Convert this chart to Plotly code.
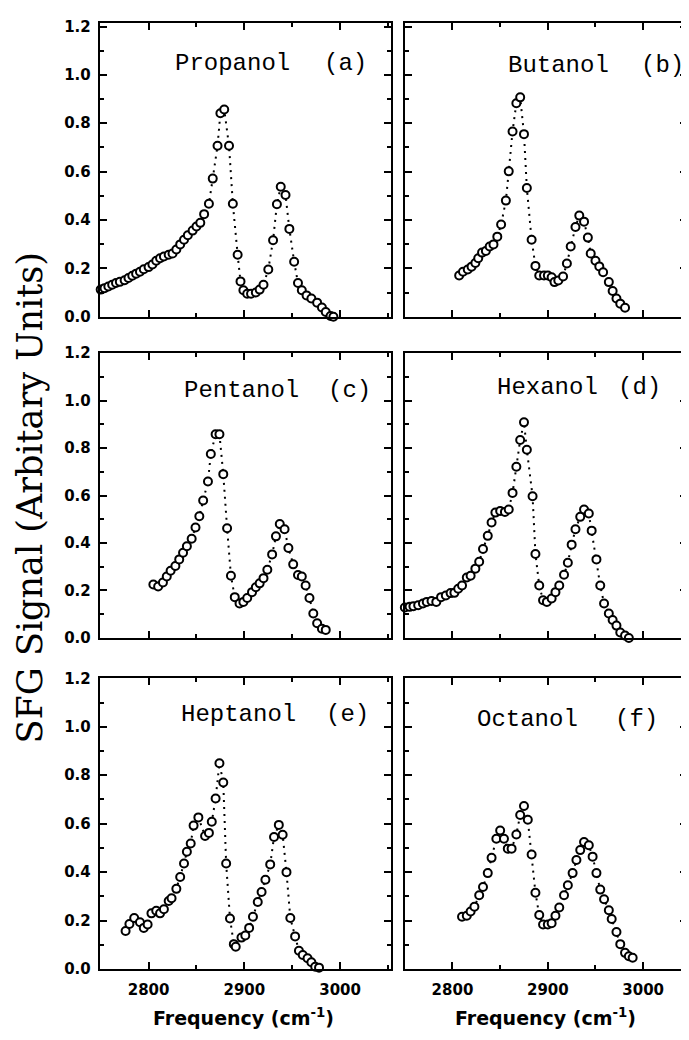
import plotly.graph_objects as go

# ---------------- data ----------------
propanol_freq = [2750, 2754, 2758, 2762, 2766, 2770, 2775, 2779, 2783, 2787, 2791, 2795, 2800, 2804, 2808,
                 2812, 2816, 2821, 2825, 2829, 2833, 2837, 2841, 2846, 2850, 2854, 2858, 2863, 2867, 2872,
                 2875, 2879, 2884, 2888, 2893, 2896, 2899, 2903, 2907, 2912, 2916, 2920, 2925, 2930, 2934,
                 2938, 2943, 2947, 2952, 2956, 2960, 2965, 2970, 2976, 2981, 2985, 2990, 2993]
propanol_sfg = [0.112, 0.118, 0.125, 0.132, 0.139, 0.144, 0.151, 0.160, 0.169, 0.178, 0.186, 0.196, 0.205, 0.216, 0.231,
                0.242, 0.249, 0.256, 0.261, 0.278, 0.299, 0.318, 0.337, 0.356, 0.373, 0.388, 0.424, 0.467, 0.571, 0.707,
                0.841, 0.857, 0.707, 0.467, 0.256, 0.146, 0.109, 0.095, 0.095, 0.100, 0.112, 0.132, 0.195, 0.316, 0.465,
                0.537, 0.503, 0.363, 0.227, 0.139, 0.109, 0.088, 0.075, 0.058, 0.038, 0.019, 0.003, 0.0]

butanol_freq = [2807, 2811, 2816, 2820, 2824, 2827, 2831, 2835, 2839, 2843, 2847, 2851, 2856, 2859, 2863,
                2867, 2871, 2875, 2878, 2883, 2887, 2891, 2896, 2900, 2904, 2907, 2911, 2916, 2920, 2924,
                2929, 2933, 2938, 2942, 2945, 2950, 2954, 2958, 2964, 2968, 2972, 2976, 2981]
butanol_sfg = [0.170, 0.186, 0.195, 0.207, 0.222, 0.242, 0.265, 0.272, 0.290, 0.299, 0.331, 0.381, 0.480, 0.601, 0.766,
               0.883, 0.907, 0.755, 0.532, 0.318, 0.210, 0.170, 0.170, 0.170, 0.163, 0.143, 0.150, 0.166, 0.220, 0.290,
               0.371, 0.418, 0.393, 0.327, 0.261, 0.231, 0.208, 0.184, 0.143, 0.106, 0.075, 0.054, 0.037]

pentanol_freq = [2805, 2810, 2815, 2819, 2823, 2828, 2832, 2836, 2840, 2845, 2849, 2853, 2857, 2862, 2865,
                 2870, 2874, 2878, 2882, 2886, 2890, 2895, 2899, 2903, 2908, 2912, 2916, 2920, 2924, 2929,
                 2933, 2937, 2942, 2946, 2951, 2956, 2960, 2964, 2968, 2972, 2976, 2981, 2985]
pentanol_sfg = [0.225, 0.217, 0.234, 0.259, 0.283, 0.303, 0.331, 0.359, 0.386, 0.418, 0.465, 0.513, 0.579, 0.659, 0.775,
                0.858, 0.858, 0.690, 0.462, 0.262, 0.172, 0.145, 0.152, 0.168, 0.193, 0.214, 0.230, 0.252, 0.287, 0.352,
                0.428, 0.480, 0.458, 0.379, 0.310, 0.265, 0.259, 0.221, 0.168, 0.103, 0.062, 0.039, 0.034]

hexanol_freq = [2750, 2755, 2759, 2764, 2769, 2773, 2778, 2783, 2788, 2793, 2798, 2802, 2806, 2810, 2815,
                2819, 2824, 2828, 2832, 2837, 2841, 2845, 2850, 2855, 2859, 2863, 2867, 2871, 2875, 2878,
                2884, 2887, 2891, 2895, 2899, 2904, 2908, 2912, 2917, 2921, 2925, 2929, 2934, 2938, 2943,
                2946, 2951, 2955, 2959, 2964, 2968, 2972, 2976, 2981, 2985]
hexanol_sfg = [0.128, 0.131, 0.134, 0.138, 0.145, 0.152, 0.156, 0.152, 0.172, 0.179, 0.189, 0.190, 0.207, 0.221, 0.255,
               0.262, 0.292, 0.321, 0.375, 0.430, 0.486, 0.528, 0.535, 0.531, 0.541, 0.611, 0.721, 0.834, 0.908, 0.793,
               0.597, 0.354, 0.221, 0.159, 0.152, 0.166, 0.193, 0.221, 0.266, 0.317, 0.393, 0.458, 0.510, 0.541, 0.524,
               0.452, 0.331, 0.221, 0.145, 0.103, 0.076, 0.052, 0.023, 0.010, 0.0]

heptanol_freq = [2776, 2780, 2785, 2791, 2795, 2799, 2803, 2808, 2812, 2816, 2821, 2824, 2829, 2833, 2837,
                 2840, 2844, 2847, 2852, 2859, 2863, 2866, 2870, 2874, 2878, 2881, 2885, 2889, 2891, 2897,
                 2901, 2905, 2909, 2914, 2918, 2922, 2927, 2931, 2936, 2940, 2944, 2948, 2953, 2957, 2961,
                 2966, 2970, 2974, 2978]
heptanol_sfg = [0.157, 0.186, 0.211, 0.193, 0.170, 0.184, 0.230, 0.241, 0.230, 0.247, 0.281, 0.292, 0.331, 0.380, 0.436,
                0.484, 0.518, 0.592, 0.626, 0.549, 0.562, 0.608, 0.704, 0.849, 0.770, 0.436, 0.209, 0.103, 0.092, 0.130,
                0.139, 0.170, 0.216, 0.277, 0.318, 0.369, 0.432, 0.545, 0.595, 0.554, 0.400, 0.211, 0.135, 0.076, 0.058,
                0.045, 0.028, 0.010, 0.006]

octanol_freq = [2810, 2815, 2819, 2823, 2828, 2832, 2837, 2841, 2846, 2850, 2854, 2858, 2862, 2867, 2871,
                2875, 2879, 2883, 2887, 2891, 2895, 2900, 2904, 2908, 2912, 2917, 2921, 2926, 2930, 2934,
                2938, 2943, 2947, 2951, 2955, 2959, 2964, 2967, 2972, 2976, 2981, 2985, 2989]
octanol_sfg = [0.216, 0.220, 0.238, 0.257, 0.305, 0.339, 0.396, 0.459, 0.538, 0.572, 0.538, 0.497, 0.497, 0.555, 0.636,
               0.673, 0.616, 0.473, 0.315, 0.223, 0.184, 0.184, 0.189, 0.220, 0.254, 0.305, 0.346, 0.396, 0.450, 0.491,
               0.524, 0.511, 0.464, 0.396, 0.328, 0.288, 0.243, 0.207, 0.153, 0.103, 0.067, 0.053, 0.047]

panel_names = ["Propanol", "Butanol", "Pentanol", "Hexanol", "Heptanol", "Octanol"]
panel_letters = ["(a)", "(b)", "(c)", "(d)", "(e)", "(f)"]

x_tick_vals = [2800, 2900, 3000]
x_tick_text = ["2800", "2900", "3000"]
x_minor_vals = [2750, 2850, 2950, 3050]
y_tick_vals = [0.0, 0.2, 0.4, 0.6, 0.8, 1.0, 1.2]
y_tick_text = ["0.0", "0.2", "0.4", "0.6", "0.8", "1.0", "1.2"]
y_minor_vals = [0.1, 0.3, 0.5, 0.7, 0.9, 1.1]

y_title = "SFG Signal (Arbitary Units)"
x_title = "Frequency (cm<sup>-1</sup>)"

series = [(propanol_freq, propanol_sfg), (butanol_freq, butanol_sfg),
          (pentanol_freq, pentanol_sfg), (hexanol_freq, hexanol_sfg),
          (heptanol_freq, heptanol_sfg), (octanol_freq, octanol_sfg)]

# ---------------- layout geometry ----------------
# The page body has an 8px default margin, so the figure is drawn 8px in from
# the top-left of the window; screen positions are converted accordingly.
OFF = 8
W, H = 689 - OFF, 1040 - OFF


def fx(sx):
    return (sx - OFF) / W


def fy(sy):
    return 1 - (sy - OFF) / H


col_px = [(100, 392), (406, 689)]
row_px = [(14, 313), (350, 640), (681, 977)]
x_ranges = [[2749, 3053], [2750, 3046]]
y_ranges = [[0, 1.215], [0, 1.2], [0, 1.2]]

tick_font = dict(family="DejaVu Sans", size=15, color="black", weight="bold")

fig = go.Figure()
layout = dict(width=W, height=H, margin=dict(l=0, r=0, t=0, b=0),
              paper_bgcolor="white", plot_bgcolor="white", showlegend=False)
annotations = []

for i, (sx_, sy_) in enumerate(series):
    row, col = divmod(i, 2)
    n = "" if i == 0 else str(i + 1)
    fig.add_trace(go.Scatter(
        x=sx_, y=sy_, mode="lines+markers",
        line=dict(color="black", width=2, dash="2px,5px"),
        marker=dict(symbol="circle", size=8, color="white",
                    line=dict(color="black", width=2)),
        xaxis="x" + n, yaxis="y" + n, cliponaxis=False))
    c0, c1 = col_px[col]
    r0, r1 = row_px[row]
    layout["xaxis" + n] = dict(
        domain=[fx(c0), min(1.0, fx(c1))], range=x_ranges[col], anchor="y" + n,
        tickvals=x_tick_vals, ticktext=x_tick_text, ticks="inside", ticklen=7, tickwidth=1.5,
        tickcolor="black", showline=True, linecolor="black", linewidth=2, mirror="allticks",
        showgrid=False, zeroline=False, showticklabels=(row == 2), tickfont=tick_font,
        ticklabelstandoff=6,
        minor=dict(tickvals=x_minor_vals, ticks="inside", ticklen=4, tickwidth=1.5,
                   tickcolor="black", showgrid=False))
    layout["yaxis" + n] = dict(
        domain=[fy(r1), fy(r0)], range=y_ranges[row], anchor="x" + n,
        tickvals=y_tick_vals, ticktext=y_tick_text, ticks="inside", ticklen=7, tickwidth=1.5,
        tickcolor="black", showline=True, linecolor="black", linewidth=2, mirror="allticks",
        showgrid=False, zeroline=False, showticklabels=(col == 0), tickfont=tick_font,
        ticklabelstandoff=4,
        minor=dict(tickvals=y_minor_vals, ticks="inside", ticklen=4, tickwidth=1.5,
                   tickcolor="black", showgrid=False))

# panel titles (name and letter): screen centre x of name, of letter, and centre y
title_pos = [(233, 346, 55), (560, 664, 57), (242, 351, 388), (549, 641, 385), (239, 348, 718), (529, 638, 723)]
title_font = dict(family="Liberation Mono", size=24, color="black")
for i, (xn, xl, yc) in enumerate(title_pos):
    annotations.append(dict(text=panel_names[i], x=fx(xn), y=fy(yc), xref="paper", yref="paper",
                            showarrow=False, font=title_font, xanchor="center", yanchor="middle"))
    annotations.append(dict(text=panel_letters[i], x=fx(xl), y=fy(yc), xref="paper", yref="paper",
                            showarrow=False, font=title_font, xanchor="center", yanchor="middle"))

# axis titles
for xc in (244, 547):
    annotations.append(dict(text=x_title, x=fx(xc), y=fy(1026), xref="paper", yref="paper",
                            showarrow=False, xanchor="center", yanchor="middle",
                            font=dict(family="DejaVu Sans", size=19, color="black", weight="bold")))
annotations.append(dict(text=y_title, x=fx(31), y=fy(497), xref="paper", yref="paper",
                        showarrow=False, textangle=-90, xanchor="center", yanchor="middle",
                        font=dict(family="DejaVu Serif", size=35, color="black")))

layout["annotations"] = annotations
fig.update_layout(**layout)
fig.write_html("out.html")
